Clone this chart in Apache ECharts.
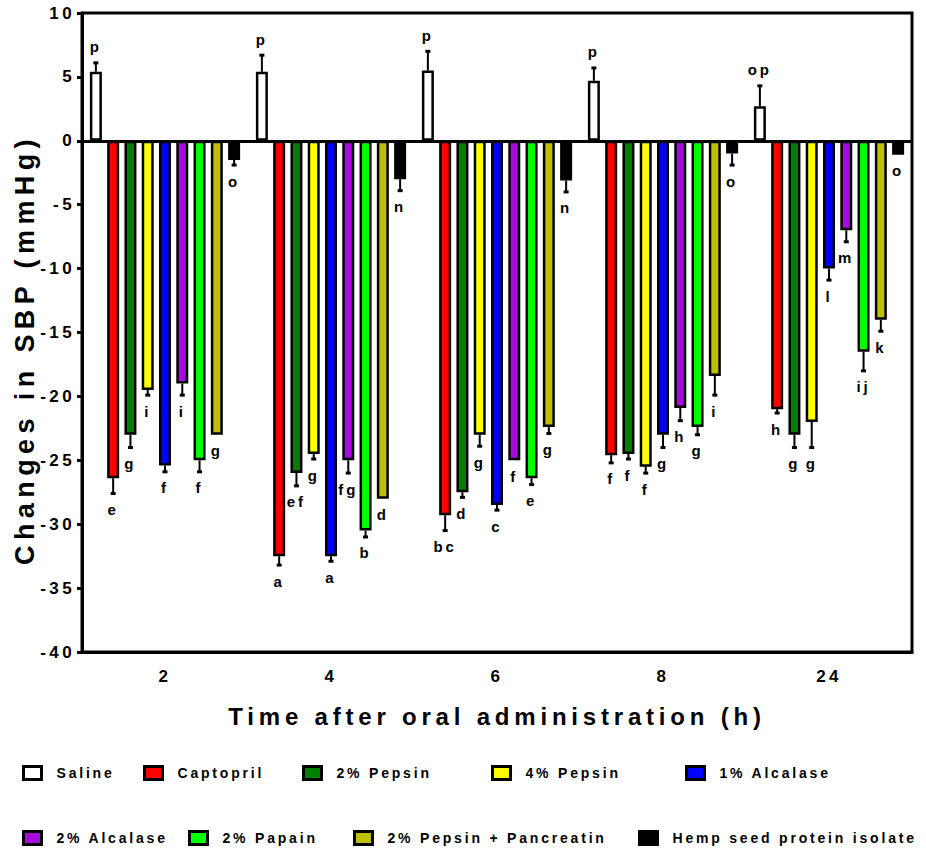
<!DOCTYPE html>
<html>
<head>
<meta charset="utf-8">
<script src="https://cdn.jsdelivr.net/npm/echarts@6/dist/echarts.min.js"></script>
<style>
	html, body { margin: 0; padding: 0; background: #fff; }
	#main { width: 926px; height: 851px; }
	/* GraphPad style spaced out lettering */
	#main text { letter-spacing: 0.2em; }
</style>
</head>
<body>
<div id="main"></div>
<script>
// time points (h)
var categories = ['2', '4', '6', '8', '24'];

var seriesNames = ['Saline', 'Captopril', '2% Pepsin', '4% Pepsin', '1% Alcalase',
	'2% Alcalase', '2% Papain', '2% Pepsin + Pancreatin', 'Hemp seed protein isolate'];
var seriesColors = ['#FFFFFF', '#FF0000', '#008000', '#FFFF00', '#0000FF',
	'#A70BE0', '#00FF00', '#BFBF00', '#000000'];

// mean change in SBP (mmHg)
var saline    = [5.4, 5.4, 5.5, 4.7, 2.7];
var captopril = [-26.4, -32.5, -29.3, -24.6, -21.0];
var pepsin2   = [-23.0, -26.0, -27.5, -24.5, -23.0];
var pepsin4   = [-19.5, -24.5, -23.0, -25.5, -22.0];
var alcalase1 = [-25.4, -32.5, -28.5, -23.0, -10.0];
var alcalase2 = [-19.0, -25.0, -25.0, -20.9, -7.0];
var papain    = [-25.0, -30.5, -26.4, -22.4, -16.5];
var pepPanc   = [-23.0, -28.0, -22.4, -18.4, -14.0];
var hemp      = [-1.5, -3.0, -3.1, -1.0, -1.1];

// SEM
var salineErr    = [0.7, 1.3, 1.5, 1.0, 1.6];
var captoprilErr = [1.2, 0.7, 1.2, 0.6, 0.3];
var pepsin2Err   = [1.0, 1.0, 0.4, 0.4, 1.0];
var pepsin4Err   = [0.4, 0.4, 0.9, 0.5, 2.0];
var alcalase1Err = [0.5, 0.4, 0.4, 1.0, 0.9];
var alcalase2Err = [0.9, 1.0, 0, 1.0, 0.9];
var papainErr    = [0.9, 0.5, 0.5, 0.6, 1.5];
var pepPancErr   = [0, 0, 0.5, 1.5, 0.9];
var hempErr      = [0.4, 0.9, 0.9, 0.9, 0];

// significance letters
var salineSig    = ['p', 'p', 'p', 'p', 'op'];
var captoprilSig = ['e', 'a', 'bc', 'f', 'h'];
var pepsin2Sig   = ['g', 'ef', 'd', 'f', 'g'];
var pepsin4Sig   = ['i', 'g', 'g', 'f', 'g'];
var alcalase1Sig = ['f', 'a', 'c', 'g', 'l'];
var alcalase2Sig = ['i', 'fg', 'f', 'h', 'm'];
var papainSig    = ['f', 'b', 'e', 'g', 'ij'];
var pepPancSig   = ['g', 'd', 'g', 'i', 'k'];
var hempSig      = ['o', 'n', 'n', 'o', 'o'];

var yMin = -40, yMax = 10, yStep = 5;

var allValues = [saline, captopril, pepsin2, pepsin4, alcalase1, alcalase2, papain, pepPanc, hemp];
var allErrs = [salineErr, captoprilErr, pepsin2Err, pepsin4Err, alcalase1Err, alcalase2Err, papainErr, pepPancErr, hempErr];
var allSig = [salineSig, captoprilSig, pepsin2Sig, pepsin4Sig, alcalase1Sig, alcalase2Sig, papainSig, pepPancSig, hempSig];

// legend layout (left, top) per item
var legendPos = [[22, 765], [143, 765], [302, 765], [491, 765], [685, 765],
	[22, 830], [188, 830], [353, 830], [638, 830]];

var barW = 12;
var barGapRatio = 0.44;
var pitch = barW * (1 + barGapRatio);
var fontFam = '"Liberation Sans", Arial, sans-serif';

var myChart = echarts.init(document.getElementById('main'), null, { renderer: 'svg' });

var series = [];
for (var i = 0; i < allValues.length; i++) {
	var s = {
		name: seriesNames[i],
		type: 'bar',
		data: allValues[i],
		barWidth: barW,
		barGap: (barGapRatio * 100) + '%',
		itemStyle: { color: seriesColors[i], borderColor: '#000', borderWidth: 2.5 },
		emphasis: { disabled: true },
		silent: true,
		z: 2
	};
	if (i == 0) {
		s.markLine = {
			silent: true,
			symbol: 'none',
			label: { show: false },
			lineStyle: { color: '#000', width: 3, type: 'solid' },
			data: [{ yAxis: 0 }],
			z: 5
		};
	}
	series.push(s);
}

// error bars + letters, one item per bar
var errData = [];
var errLetters = [];
for (var i = 0; i < allValues.length; i++) {
	for (var c = 0; c < categories.length; c++) {
		errData.push([c, i, allValues[i][c], allErrs[i][c]]);
		errLetters.push(allSig[i][c]);
	}
}

series.push({
	type: 'custom',
	silent: true,
	z: 4,
	data: errData,
	encode: { x: 0, y: 2 },
	renderItem: function (params, api) {
		var cat = api.value(0);
		var idx = api.value(1);
		var mean = api.value(2);
		var err = api.value(3);
		var dir = mean >= 0 ? 1 : -1;
		var p0 = api.coord([cat, mean]);
		var p1 = api.coord([cat, mean + dir * err]);
		var x = p0[0] + (idx - (allValues.length - 1) / 2) * pitch;
		var children = [];
		if (err > 0) {
			children.push({
				type: 'line',
				shape: { x1: x, y1: p0[1], x2: x, y2: p1[1] },
				style: { stroke: '#000', lineWidth: 2 }
			});
			children.push({
				type: 'rect',
				shape: { x: x - 2.5, y: p1[1] - 1.5, width: 5, height: 3 },
				style: { fill: '#000' }
			});
		}
		children.push({
			type: 'text',
			style: {
				text: errLetters[params.dataIndex],
				x: x,
				y: p1[1] - dir * 16,
				align: 'center',
				verticalAlign: 'middle',
				fontSize: 15,
				fontWeight: 'bold',
				fontFamily: fontFam,
				fill: '#000'
			}
		});
		return { type: 'group', children: children };
	}
});

var legends = [];
for (var i = 0; i < seriesNames.length; i++) {
	legends.push({
		data: [seriesNames[i]],
		left: legendPos[i][0],
		top: legendPos[i][1],
		padding: 0,
		icon: 'rect',
		itemWidth: 18,
		itemHeight: 13,
		selectedMode: false,
		itemStyle: { borderColor: '#000', borderWidth: 3 },
		textStyle: { fontSize: 14, fontWeight: 'bold', color: '#000', fontFamily: fontFam, padding: [0, 0, 0, 10] }
	});
}

var option = {
	backgroundColor: '#fff',
	animation: false,
	textStyle: { fontFamily: fontFam },
	legend: legends,
	grid: {
		left: 82, right: 14, top: 13, bottom: 199,
		show: true, borderColor: '#000', borderWidth: 3, containLabel: false
	},
	xAxis: {
		type: 'category',
		data: categories,
		axisLine: { onZero: false, lineStyle: { color: '#000', width: 3 } },
		axisTick: { alignWithLabel: true, length: 6, lineStyle: { color: '#000', width: 3 } },
		axisLabel: { fontSize: 17, fontWeight: 'bold', color: '#000', margin: 16 },
		name: 'Time after oral administration (h)',
		nameLocation: 'middle',
		nameGap: 52,
		nameTextStyle: { fontSize: 24, fontWeight: 'bold', color: '#000' }
	},
	yAxis: {
		type: 'value',
		min: yMin,
		max: yMax,
		interval: yStep,
		axisLine: { show: true, lineStyle: { color: '#000', width: 3 } },
		axisTick: { show: true, length: 5, lineStyle: { color: '#000', width: 3 } },
		splitLine: { show: false },
		axisLabel: { fontSize: 17, fontWeight: 'bold', color: '#000', margin: 7 },
		name: 'Changes in SBP (mmHg)',
		nameLocation: 'middle',
		nameGap: 44,
		nameTextStyle: { fontSize: 27, fontWeight: 'bold', color: '#000', padding: [0, 34, 0, 0] }
	},
	series: series
};

myChart.setOption(option);
</script>
</body>
</html>
